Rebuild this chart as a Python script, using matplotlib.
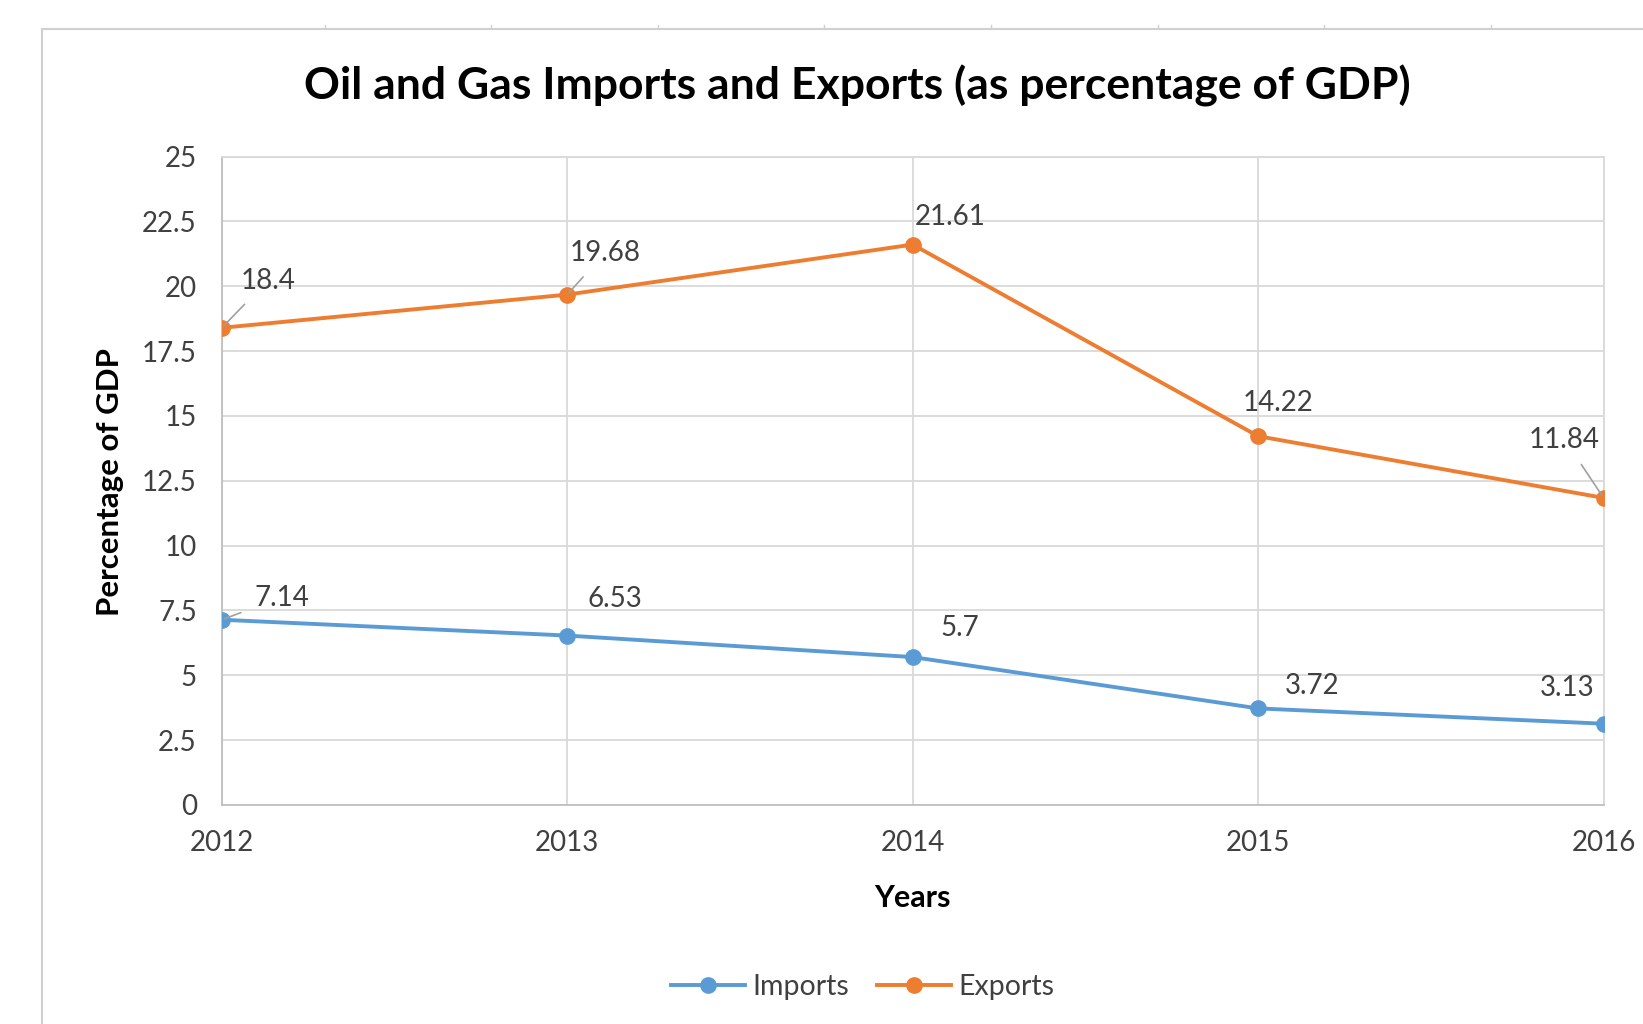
import matplotlib
matplotlib.use("Agg")
import matplotlib.pyplot as plt
from matplotlib.lines import Line2D
from matplotlib.ticker import FuncFormatter
import numpy as np

plt.rcParams['font.family'] = ['Lato', 'DejaVu Sans']

# data
years = [2012, 2013, 2014, 2015, 2016]
imports = [7.14, 6.53, 5.7, 3.72, 3.13]
exports = [18.4, 19.68, 21.61, 14.22, 11.84]
yticks = [0, 2.5, 5, 7.5, 10, 12.5, 15, 17.5, 20, 22.5, 25]

blue = '#5B9BD5'
orange = '#ED7D31'
grid_c = '#D9D9D9'
text_c = '#404040'

fig = plt.figure(figsize=(16.43, 10.24), dpi=100)
ax = fig.add_axes([0.135, 0.214, 0.841, 0.633])

ax.plot(years, imports, color=blue, lw=2.8, marker='o', ms=11, label='Imports', zorder=3)
ax.plot(years, exports, color=orange, lw=2.8, marker='o', ms=11, label='Exports', zorder=3)

ax.set_xlim(2012, 2016)
ax.set_ylim(0, 25)
ax.set_xticks(years)
ax.set_yticks(yticks)
ax.yaxis.set_major_formatter(FuncFormatter(lambda v, p: '{:g}'.format(v)))
ax.grid(True, color=grid_c, lw=1.3)
ax.set_axisbelow(True)
for s in ax.spines.values():
    s.set_color(grid_c)
    s.set_linewidth(1.3)
ax.spines['bottom'].set_color('#BFBFBF')
ax.spines['left'].set_color('#BFBFBF')
ax.tick_params(axis='both', length=0, labelsize=20, labelcolor=text_c)
ax.tick_params(axis='x', pad=18)
ax.tick_params(axis='y', pad=18)

# data labels (offsets in points), some with leader lines
imp_off = [(43, 16), (34, 26), (34, 21), (39, 16), (-26, 26)]
exp_off = [(33, 34), (27, 30), (27, 20), (14, 24), (-28, 42)]
imp_lead = [True, False, False, False, False]
exp_lead = [True, True, False, False, True]

def label(x, y, off, lead):
    kw = {}
    if lead:
        kw['arrowprops'] = dict(arrowstyle='-', color='#A0A0A0', lw=1.2,
                                shrinkA=8, shrinkB=2)
    ax.annotate('{:g}'.format(y), (x, y), xytext=off, textcoords='offset points',
                ha='center', va='center', fontsize=20, color=text_c, **kw)

for x, y, o, l in zip(years, imports, imp_off, imp_lead):
    label(x, y, o, l)
for x, y, o, l in zip(years, exports, exp_off, exp_lead):
    label(x, y, o, l)

fig.text(0.5216, 0.916, 'Oil and Gas Imports and Exports (as percentage of GDP)',
         ha='center', va='center', fontsize=32, fontweight='bold', color='black')
fig.text(0.067, 0.529, 'Percentage of GDP', rotation=90, ha='center', va='center',
         fontsize=22.5, fontweight='bold', color='black')
fig.text(0.5555, 0.123, 'Years', ha='center', va='center',
         fontsize=22, fontweight='bold', color='black')

fig.legend(loc='center', bbox_to_anchor=(0.525, 0.036), ncol=2, frameon=False,
           fontsize=20.5, handlelength=2.6, columnspacing=1.0, handletextpad=0.25,
           labelcolor=text_c)

# chart-area border and sheet column marks
border = '#D0D0D0'
fig.add_artist(Line2D([0.0256, 0.0256], [0, 0.9717], color=border, lw=1.5))
fig.add_artist(Line2D([0.0256, 1], [0.9717, 0.9717], color=border, lw=1.5))
for cx in [325, 491, 658, 824, 991, 1158, 1324, 1491]:
    fig.add_artist(Line2D([cx / 1643, cx / 1643], [0.9717, 0.9756], color=border, lw=1.0))

fig.savefig('out.png', dpi=100, facecolor='white')
